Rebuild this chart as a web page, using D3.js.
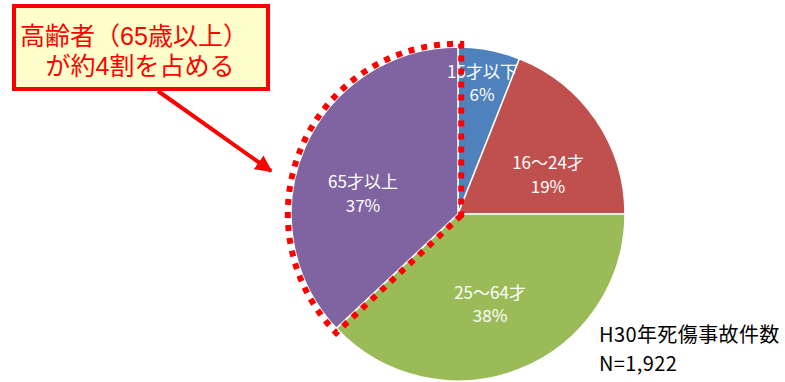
<!DOCTYPE html>
<html>
<head>
<meta charset="utf-8">
<script src="https://cdn.jsdelivr.net/npm/d3@7"></script>
<style>
  html, body { margin: 0; padding: 0; background: #fff; }
  svg { display: block; }
</style>
</head>
<body>
<svg id="chart" width="785" height="382"></svg>
<script>
// ---- data ----
const categories = ["15才以下", "16～24才", "25～64才", "65才以上"];
const shares = [6, 19, 38, 37];               // percent
const colors = ["#4F81BD", "#C0504D", "#9BBB59", "#8064A2"];
const calloutLines = ["高齢者（65歳以上）", "が約4割を占める"];
const noteLines = ["H30年死傷事故件数", "N=1,922"];
const highlightIndex = 3;                     // 65才以上

// ---- layout ----
const W = 785, H = 382;
const cx = 458, cy = 214, R = 167;
// label anchors as fractions of radius relative to pie centre (x, y)
const labelNudge = [[0.144, -0.743], [0.539, -0.195], [0.192, 0.578], [-0.569, -0.081]];

const svg = d3.select("#chart");

const pie = d3.pie().sort(null).value(d => d);
const arcs = pie(shares);
const arc = d3.arc().innerRadius(0).outerRadius(R);

const g = svg.append("g").attr("transform", `translate(${cx},${cy})`);

g.selectAll("path.slice")
  .data(arcs)
  .join("path")
  .attr("class", "slice")
  .attr("d", arc)
  .attr("fill", (d, i) => colors[i])
  .attr("stroke", "#fff")
  .attr("stroke-width", 1.5)
  .attr("stroke-linejoin", "miter");

// slice labels
const lab = g.selectAll("g.lab")
  .data(arcs)
  .join("g")
  .attr("class", "lab")
  .attr("transform", (d, i) => `translate(${labelNudge[i][0] * R},${labelNudge[i][1] * R})`);

lab.append("text")
  .attr("text-anchor", "middle")
  .attr("y", -12)
  .attr("font-family", "'Noto Sans CJK JP', 'Noto Sans', sans-serif")
  .attr("font-size", 17)
  .attr("fill", "#fff")
  .text((d, i) => categories[i]);

lab.append("text")
  .attr("text-anchor", "middle")
  .attr("y", 11.5)
  .attr("font-family", "'Noto Sans CJK JP', 'Noto Sans', sans-serif")
  .attr("font-size", 17)
  .attr("fill", "#fff")
  .text((d, i) => d3.format(".0f")(shares[i]) + "%");

// dotted highlight outline around the highlighted slice (offset outward)
{
  const a = arcs[highlightIndex];
  const off = 3.2;
  const Ro = R + off;
  const a0 = a.startAngle, a1 = a.endAngle;
  const half = (a1 - a0) / 2;
  const mid = (a0 + a1) / 2;
  const apexDist = off / Math.sin(half);
  const ax = -apexDist * Math.sin(mid);
  const ay = apexDist * Math.cos(mid);
  const d0 = off / Ro;
  const s = a0 - d0, e = a1 + d0;
  const p = d3.path();
  p.moveTo(ax, ay);
  p.lineTo(Ro * Math.sin(s), -Ro * Math.cos(s));
  p.arc(0, 0, Ro, s - Math.PI / 2, e - Math.PI / 2, false);
  p.closePath();
  g.append("path")
    .attr("d", p.toString())
    .attr("fill", "none")
    .attr("stroke", "#FF0000")
    .attr("stroke-width", 6)
    .attr("stroke-dasharray", "6,7")
    .attr("stroke-linecap", "butt");
}

// callout box
svg.append("rect")
  .attr("x", 14).attr("y", 6)
  .attr("width", 254).attr("height", 83)
  .attr("fill", "#FFFFCC")
  .attr("stroke", "#FF0000")
  .attr("stroke-width", 4);

svg.selectAll("text.callout")
  .data(calloutLines)
  .join("text")
  .attr("class", "callout")
  .attr("x", (d, i) => i === 0 ? 134 : 140)
  .attr("y", (d, i) => 45 + i * 30)
  .attr("text-anchor", "middle")
  .attr("font-family", "'Liberation Sans', 'Noto Sans CJK JP', sans-serif")
  .attr("font-size", 25)
  .attr("fill", "#FF0000")
  .text(d => d);

// arrow
svg.append("defs").append("marker")
  .attr("id", "arrowhead")
  .attr("viewBox", "0 0 10 10")
  .attr("refX", 9).attr("refY", 5)
  .attr("markerWidth", 4.2).attr("markerHeight", 4.2)
  .attr("markerUnits", "strokeWidth")
  .attr("orient", "auto")
  .append("path")
  .attr("d", "M0,0 L10,5 L0,10 Z")
  .attr("fill", "#FF0000");

svg.append("line")
  .attr("x1", 158).attr("y1", 91)
  .attr("x2", 271).attr("y2", 171)
  .attr("stroke", "#FF0000")
  .attr("stroke-width", 4)
  .attr("marker-end", "url(#arrowhead)");

// note
svg.selectAll("text.note")
  .data(noteLines)
  .join("text")
  .attr("class", "note")
  .attr("x", 599)
  .attr("y", (d, i) => 342 + i * 29)
  .attr("font-family", "'Noto Sans CJK JP', sans-serif")
  .attr("font-size", 20)
  .attr("letter-spacing", 0.4)
  .attr("fill", "#000")
  .text(d => d);
</script>
</body>
</html>
